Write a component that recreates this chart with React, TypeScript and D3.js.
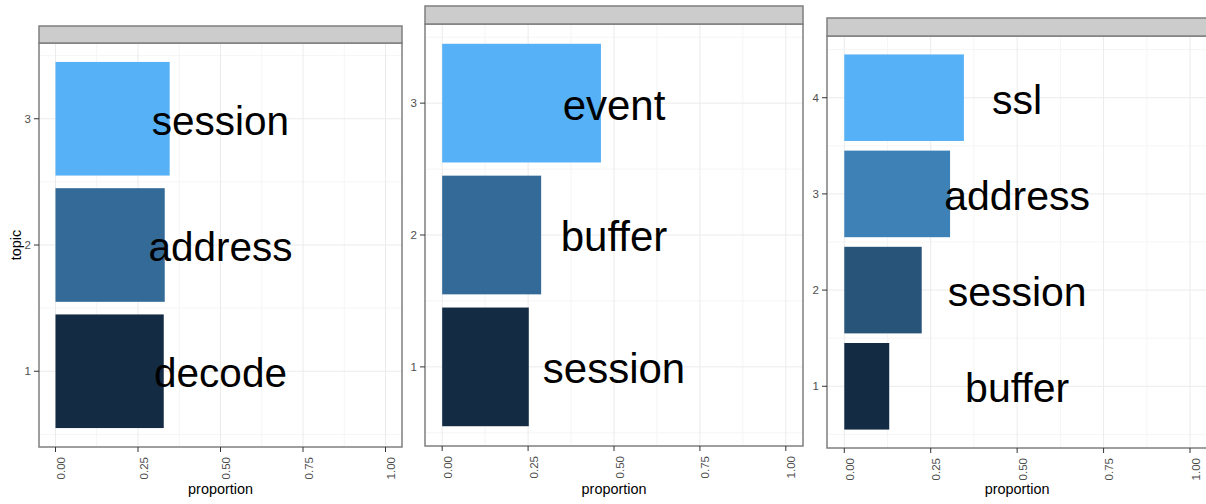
import React from "react";
import * as d3 from "d3";

// ---- data ----
const panel1Topics = [1, 2, 3];
const panel1Terms = ["decode", "address", "session"];
const panel1Props = [0.328, 0.331, 0.346];

const panel2Topics = [1, 2, 3];
const panel2Terms = ["session", "buffer", "event"];
const panel2Props = [0.252, 0.288, 0.462];

const panel3Topics = [1, 2, 3, 4];
const panel3Terms = ["buffer", "session", "address", "ssl"];
const panel3Props = [0.13, 0.224, 0.306, 0.346];

const xTicks = [0, 0.25, 0.5, 0.75, 1];
const xMinor = [0.125, 0.375, 0.625, 0.875];
const xTitle = "proportion";
const yTitle = "topic";

// ---- layout (per panel frame) ----
type Frame = {
  left: number; right: number; stripTop: number; plotTop: number; plotBottom: number;
  yTop: number; yBottom: number; fontSize: number; showYTitle: boolean;
};

const frames: Frame[] = [
  { left: 39, right: 402, stripTop: 26, plotTop: 43, plotBottom: 447, yTop: 43, yBottom: 447, fontSize: 40.5, showYTitle: true },
  { left: 425, right: 803, stripTop: 6, plotTop: 24, plotBottom: 446, yTop: 24, yBottom: 446, fontSize: 42, showYTitle: false },
  { left: 827, right: 1207.3, stripTop: 18, plotTop: 36, plotBottom: 448, yTop: 40, yBottom: 444, fontSize: 41, showYTitle: false },
];

const panels = [
  { topics: panel1Topics, terms: panel1Terms, props: panel1Props },
  { topics: panel2Topics, terms: panel2Terms, props: panel2Props },
  { topics: panel3Topics, terms: panel3Terms, props: panel3Props },
];

const FONT = "'Liberation Sans', Arial, Helvetica, sans-serif";

function Panel({ f, data }: { f: Frame; data: { topics: number[]; terms: string[]; props: number[] } }) {
  const n = data.topics.length;
  const x = d3.scaleLinear().domain([-0.05, 1.05]).range([f.left, f.right]);
  const y = d3.scaleLinear().domain([0.4, n + 0.6]).range([f.yBottom, f.yTop]);
  const color = (t: number) =>
    d3.interpolateLab("#132B43", "#56B1F7")(n > 1 ? (t - 1) / (n - 1) : 1);
  const yMinor = d3.range(0, n + 1).map((i) => i + 0.5);
  const bw = 0.9;
  const cx = (f.left + f.right) / 2;
  return (
    <g>
      <rect x={f.left} y={f.plotTop} width={f.right - f.left} height={f.plotBottom - f.plotTop} fill="white" />
      {xMinor.map((v) => (
        <line key={"xm" + v} x1={x(v)} x2={x(v)} y1={f.plotTop} y2={f.plotBottom} stroke="#f5f5f5" strokeWidth={1} />
      ))}
      {yMinor.map((v) => (
        <line key={"ym" + v} x1={f.left} x2={f.right} y1={y(v)} y2={y(v)} stroke="#f5f5f5" strokeWidth={1} />
      ))}
      {xTicks.map((v) => (
        <line key={"xM" + v} x1={x(v)} x2={x(v)} y1={f.plotTop} y2={f.plotBottom} stroke="#ebebeb" strokeWidth={1} />
      ))}
      {data.topics.map((t) => (
        <line key={"yM" + t} x1={f.left} x2={f.right} y1={y(t)} y2={y(t)} stroke="#ebebeb" strokeWidth={1} />
      ))}
      {data.topics.map((t, i) => (
        <rect
          key={"b" + t}
          x={x(0)}
          y={y(t + bw / 2)}
          width={x(data.props[i]) - x(0)}
          height={y(t - bw / 2) - y(t + bw / 2)}
          fill={color(t)}
        />
      ))}
      {data.topics.map((t, i) => (
        <text
          key={"l" + t}
          x={x(0.5)}
          y={y(t) + f.fontSize * 0.39}
          textAnchor="middle"
          fontFamily={FONT}
          fontSize={f.fontSize}
          fill="black"
        >
          {data.terms[i]}
        </text>
      ))}
      <rect x={f.left} y={f.plotTop} width={f.right - f.left} height={f.plotBottom - f.plotTop} fill="none" stroke="#7f7f7f" strokeWidth={1.5} />
      <rect x={f.left} y={f.stripTop} width={f.right - f.left} height={f.plotTop - f.stripTop} fill="#cccccc" stroke="#7f7f7f" strokeWidth={1.5} />
      {xTicks.map((v) => (
        <g key={"xt" + v}>
          <line x1={x(v)} x2={x(v)} y1={f.plotBottom} y2={f.plotBottom + 5} stroke="#333" strokeWidth={1} />
          <text
            transform={`translate(${x(v) + 9.5},${f.plotBottom + 10}) rotate(-90)`}
            textAnchor="end"
            fontFamily={FONT}
            fontSize={11.5}
            fill="#4d4d4d"
          >
            {d3.format(".2f")(v)}
          </text>
        </g>
      ))}
      {data.topics.map((t) => (
        <g key={"yt" + t}>
          <line x1={f.left - 5} x2={f.left} y1={y(t)} y2={y(t)} stroke="#333" strokeWidth={1} />
          <text x={f.left - 8} y={y(t) + 4} textAnchor="end" fontFamily={FONT} fontSize={11.5} fill="#4d4d4d">
            {String(t)}
          </text>
        </g>
      ))}
      <text x={cx} y={494} textAnchor="middle" fontFamily={FONT} fontSize={14.4} fill="black">
        {xTitle}
      </text>
      {f.showYTitle && (
        <text
          transform={`translate(21,${(f.plotTop + f.plotBottom) / 2}) rotate(-90)`}
          textAnchor="middle"
          fontFamily={FONT}
          fontSize={14.4}
          fill="black"
        >
          {yTitle}
        </text>
      )}
    </g>
  );
}

export default function App() {
  return (
    <svg
      width={1206}
      height={504}
      style={{ position: "absolute", left: 0, top: 0, background: "white" }}
    >
      <rect x={0} y={0} width={1206} height={504} fill="white" />
      {frames.map((f, i) => (
        <Panel key={i} f={f} data={panels[i]} />
      ))}
    </svg>
  );
}
